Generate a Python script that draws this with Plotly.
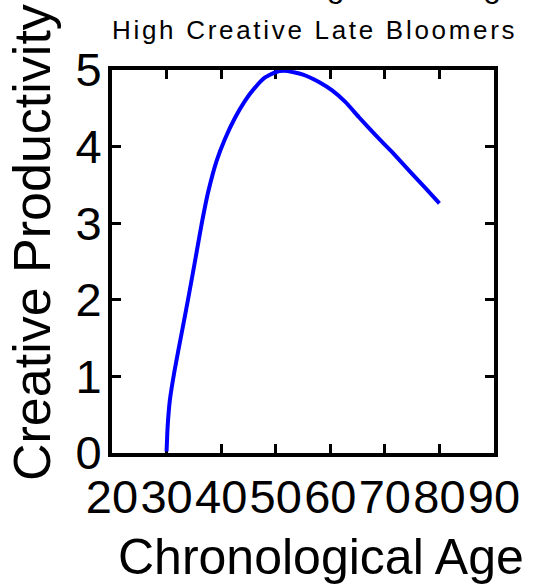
import plotly.graph_objects as go

# Data
age = [30.0, 30.2, 30.6, 31.5, 32.75, 34.0, 35.2, 36.4, 37.6, 39.2, 40.7, 42.5,
       44.4, 46.2, 48.0, 49.9, 51.5, 53.3, 55.0, 58.0, 60.4, 62.8, 65.3, 68.3,
       71.3, 74.4, 77.4, 80.0]
productivity = [0.02, 0.35, 0.69, 1.09, 1.56, 2.03, 2.50, 2.98, 3.40, 3.82, 4.10, 4.37,
                4.60, 4.77, 4.90, 4.97, 4.99, 4.97, 4.94, 4.84, 4.73, 4.58, 4.38, 4.15,
                3.93, 3.69, 3.46, 3.26]
x_ticks = [20, 30, 40, 50, 60, 70, 80, 90]
y_ticks = [0, 1, 2, 3, 4, 5]

title_text = "Creative Age Modeling"
subtitle_text = "High Creative Late Bloomers"
x_label = "Chronological Age"
y_label = "Creative Productivity"

FONT = "Liberation Sans, Arial, sans-serif"

fig = go.Figure()
fig.add_trace(go.Scatter(
    x=age, y=productivity, mode="lines",
    line=dict(color="#0000FF", width=4, shape="spline", smoothing=0.4),
    hoverinfo="skip", showlegend=False,
))

axis_common = dict(
    showgrid=False, zeroline=False,
    showline=True, linecolor="black", linewidth=4, mirror="ticks",
    ticks="inside", ticklen=9, tickwidth=3, tickcolor="black",
    tickfont=dict(family=FONT, size=47, color="black"),
    layer="below traces",
)

fig.update_layout(
    width=535, height=584,
    margin=dict(l=112, r=41, t=70, b=131),
    paper_bgcolor="white", plot_bgcolor="white",
    xaxis=dict(range=[20, 90], tickvals=x_ticks, ticktext=[str(v) for v in x_ticks],
               ticklabelstandoff=0, **axis_common),
    yaxis=dict(range=[0, 5], tickvals=y_ticks, ticktext=[str(v) for v in y_ticks],
               ticklabelstandoff=-3, **axis_common),
    font=dict(family=FONT, color="black"),
)

# Main title (mostly cut off at the top edge)
fig.add_annotation(text=title_text, xref="paper", yref="paper", x=0.170, y=1,
                   xanchor="left", yanchor="bottom", yshift=64, showarrow=False,
                   font=dict(family=FONT, size=32, color="black"))
# Subtitle
fig.add_annotation(text='<span style="letter-spacing:2.7px">' + subtitle_text + '</span>',
                   xref="paper", yref="paper", x=(314 - 112) / 382, y=1,
                   xanchor="center", yanchor="bottom", yshift=23, showarrow=False,
                   font=dict(family=FONT, size=26, color="black"))
# X label
fig.add_annotation(text=x_label, xref="paper", yref="paper", x=(321 - 112) / 382, y=0,
                   xanchor="center", yanchor="top", yshift=-74, showarrow=False,
                   font=dict(family=FONT, size=50, color="black"))
# Y label
fig.add_annotation(text=y_label, xref="paper", yref="paper", x=0, y=(453 - 243) / 383,
                   xanchor="center", yanchor="middle", xshift=-80, textangle=-90,
                   showarrow=False, font=dict(family=FONT, size=52, color="black"))

fig.write_html("out.html", config={"displayModeBar": False},
               post_script="document.body.style.margin='0';document.body.style.overflow='hidden';")
